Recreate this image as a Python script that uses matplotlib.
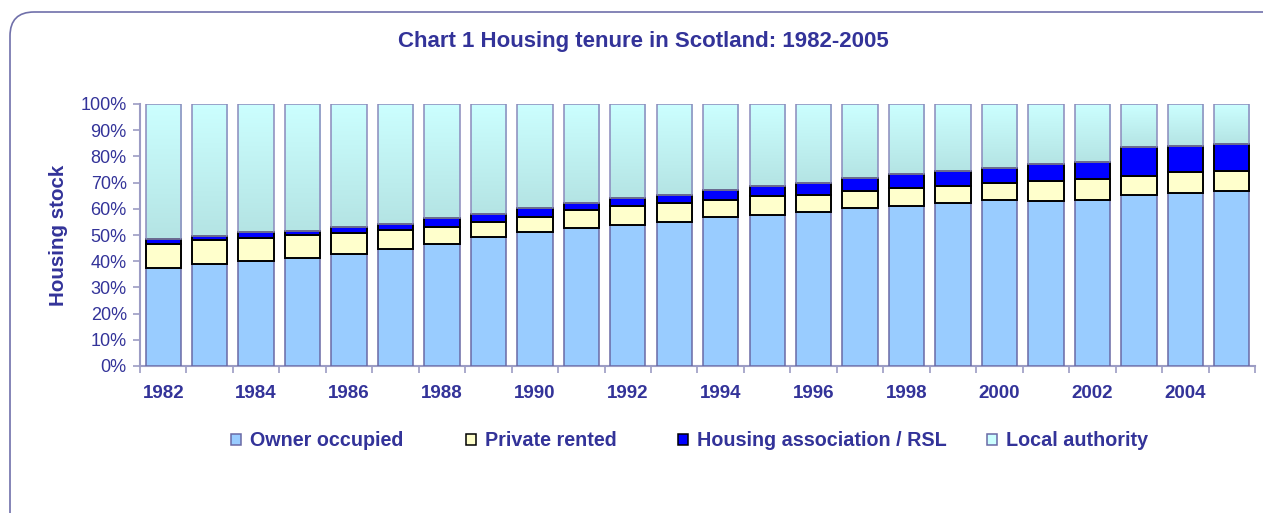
import numpy as np
import matplotlib
matplotlib.use('Agg')
import matplotlib.pyplot as plt
from matplotlib.patches import FancyBboxPatch, Patch
from matplotlib.transforms import IdentityTransform
from matplotlib.colors import LinearSegmentedColormap

# DATA (% of housing stock)
years = list(range(1982, 2006))
owner = [37.4, 39.0, 40.1, 41.4, 42.8, 44.7, 46.6, 49.2, 51.1, 52.5, 53.8, 55.1,
         57.0, 57.6, 58.9, 60.3, 60.9, 62.2, 63.5, 62.8, 63.5, 65.4, 66.2, 66.7]
private = [9.2, 9.0, 8.6, 8.5, 7.8, 7.1, 6.5, 5.9, 5.9, 7.0, 7.1, 7.0,
           6.5, 7.3, 6.5, 6.5, 7.0, 6.5, 6.3, 7.8, 7.9, 7.1, 7.7, 7.8]
housing_assoc = [1.9, 1.5, 2.3, 1.8, 2.4, 2.3, 3.2, 3.1, 3.2, 2.6, 3.1, 3.3,
                 3.8, 3.7, 4.3, 5.0, 5.2, 5.8, 5.9, 6.4, 6.4, 11.1, 10.1, 10.4]
local_auth = [51.5, 50.5, 49.0, 48.3, 47.0, 45.9, 43.7, 41.8, 39.8, 37.9, 36.0, 34.6,
              32.7, 31.4, 30.3, 28.2, 26.9, 25.5, 24.3, 23.0, 22.2, 16.4, 16.0, 15.1]
labels = ['Owner occupied', 'Private rented', 'Housing association / RSL', 'Local authority']

NAVY = '#333399'
AXC = '#9c9cc4'
plt.rcParams['font.family'] = ['Liberation Sans', 'DejaVu Sans']

fig = plt.figure(figsize=(12.63, 5.13), dpi=100)
ax = fig.add_axes([140 / 1263, 147 / 513, 1115 / 1263, 262 / 513])

x = np.arange(len(years))
w = 0.76
o = np.array(owner)
p = np.array(private)
h = np.array(housing_assoc)
la = np.array(local_auth)

ax.bar(x, o, w, color='#99ccff', edgecolor='#6a6aa6', linewidth=1.1, zorder=3)
ax.bar(x, p, w, bottom=o, color='#ffffcc', edgecolor='black', linewidth=1.4, zorder=4)
ax.bar(x, h, w, bottom=o + p, color='#0000ff', edgecolor='black', linewidth=1.4, zorder=4)
la_bars = ax.bar(x, la, w, bottom=o + p + h, color='none', edgecolor='#8a8abc',
                 linewidth=1.1, zorder=5)

# gradient fill for local authority bars
cmap = LinearSegmentedColormap.from_list('la', ['#b4e4e4', '#ccffff'])
grad = np.linspace(0, 1, 100).reshape(-1, 1)
for b in la_bars:
    bx, by = b.get_x(), b.get_y()
    im = ax.imshow(grad, cmap=cmap, origin='lower', aspect='auto',
                   extent=(bx, bx + b.get_width(), by, by + b.get_height()), zorder=2)
    im.set_clip_path(b)

ax.set_xlim(-0.5, len(years) - 0.5)
ax.set_ylim(0, 100)

ax.set_yticks(np.arange(0, 101, 10))
ax.set_yticklabels([f'{v}%' for v in range(0, 101, 10)])
ax.set_xticks(np.arange(-0.5, len(years), 1))
ax.set_xticklabels([])
ax.set_xticks(x[::2], minor=True)
ax.set_xticklabels([str(y) for y in years[::2]], minor=True)

ax.tick_params(axis='y', direction='out', length=5, color=AXC, width=1.2,
               labelsize=13, labelcolor=NAVY, pad=4.5)
ax.tick_params(axis='x', which='major', direction='out', length=5, color=AXC, width=1.2)
ax.tick_params(axis='x', which='minor', length=0, labelsize=13.5, labelcolor=NAVY, pad=14)
for t in ax.get_xticklabels(minor=True):
    t.set_fontweight('bold')

for s in ['top', 'right']:
    ax.spines[s].set_visible(False)
for s in ['left', 'bottom']:
    ax.spines[s].set_color(AXC)
    ax.spines[s].set_linewidth(1.5)

ax.set_ylabel('Housing stock', fontsize=14.8, fontweight='bold', color=NAVY)
ax.yaxis.set_label_coords(-72 / 1115, 0.5)

fig.text(643 / 1263, 1 - 42 / 513, 'Chart 1 Housing tenure in Scotland: 1982-2005',
         ha='center', va='center', fontsize=16, fontweight='bold', color=NAVY)

# legend entries placed individually
fills = ['#99ccff', '#ffffcc', '#0000ff', '#ccffff']
edges = ['#6a6aa6', 'black', 'black', '#6a6aa6']
xs = [231, 466, 678, 987]
for lab, fc, ec, lx in zip(labels, fills, edges, xs):
    leg = fig.legend(handles=[Patch(facecolor=fc, edgecolor=ec, linewidth=1.1)], labels=[lab],
                     loc='center left', bbox_to_anchor=(lx / 1263, 1 - 441 / 513),
                     frameon=False, handlelength=0.5, handleheight=0.5, handletextpad=0.45,
                     borderpad=0, borderaxespad=0,
                     prop={'size': 14.2, 'weight': 'bold'})
    for t in leg.get_texts():
        t.set_color(NAVY)

# rounded outer frame
frame = FancyBboxPatch((10, -40), 1290, 501 + 40, boxstyle='round,pad=0,rounding_size=24',
                       transform=IdentityTransform(), facecolor='none',
                       edgecolor='#7070aa', linewidth=1.2)
fig.patches.append(frame)

fig.savefig('out.png', dpi=100)
